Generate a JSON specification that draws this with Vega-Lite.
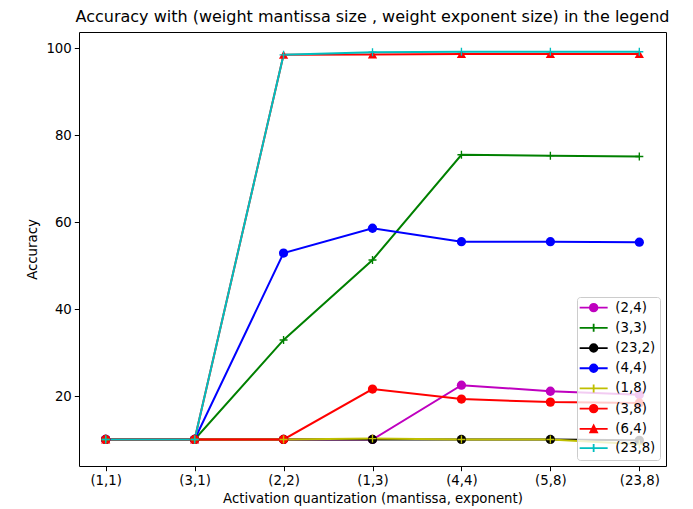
{
  "$schema": "https://vega.github.io/schema/vega-lite/v6.json",
  "width": 587,
  "height": 434,
  "autosize": {"type": "none"},
  "padding": {"left": 79, "top": 32, "right": 27, "bottom": 43},
  "background": "white",
  "title": {
    "text": "Accuracy with (weight mantissa size , weight exponent size) in the legend",
    "font": "DejaVu Sans", "fontSize": 16, "fontWeight": "normal", "color": "#000",
    "anchor": "middle", "offset": 7
  },
  "config": {
    "view": {"stroke": "#000", "strokeWidth": 1},
    "axis": {
      "grid": false, "domain": false, "tickColor": "#000", "tickSize": 4.7, "tickWidth": 1,
      "labelFont": "DejaVu Sans", "labelFontSize": 13.3, "labelColor": "#000", "labelPadding": 3,
      "titleFont": "DejaVu Sans", "titleFontSize": 13.3, "titleFontWeight": "normal", "titleColor": "#000"
    },
    "legend": {
      "orient": "bottom-right", "offset": 6,
      "fillColor": "rgba(255,255,255,0.8)", "strokeColor": "#cccccc", "cornerRadius": 3, "padding": 4,
      "labelFont": "DejaVu Sans", "labelFontSize": 13.3, "labelColor": "#000",
      "symbolSize": 64, "symbolStrokeWidth": 1.8, "symbolOffset": 6, "labelOffset": 15, "rowPadding": 4.2, "symbolOpacity": 1
    }
  },
  "data": {
    "values": [
      {"s": "(2,4)", "x": "(1,1)", "y": 10}, {"s": "(2,4)", "x": "(3,1)", "y": 10}, {"s": "(2,4)", "x": "(2,2)", "y": 10}, {"s": "(2,4)", "x": "(1,3)", "y": 10}, {"s": "(2,4)", "x": "(4,4)", "y": 22.5}, {"s": "(2,4)", "x": "(5,8)", "y": 21.1}, {"s": "(2,4)", "x": "(23,8)", "y": 20.3},
      {"s": "(3,3)", "x": "(1,1)", "y": 10}, {"s": "(3,3)", "x": "(3,1)", "y": 10}, {"s": "(3,3)", "x": "(2,2)", "y": 32.9}, {"s": "(3,3)", "x": "(1,3)", "y": 51.3}, {"s": "(3,3)", "x": "(4,4)", "y": 75.5}, {"s": "(3,3)", "x": "(5,8)", "y": 75.3}, {"s": "(3,3)", "x": "(23,8)", "y": 75.1},
      {"s": "(23,2)", "x": "(1,1)", "y": 10}, {"s": "(23,2)", "x": "(3,1)", "y": 10}, {"s": "(23,2)", "x": "(2,2)", "y": 10}, {"s": "(23,2)", "x": "(1,3)", "y": 10}, {"s": "(23,2)", "x": "(4,4)", "y": 10}, {"s": "(23,2)", "x": "(5,8)", "y": 10}, {"s": "(23,2)", "x": "(23,8)", "y": 9.8},
      {"s": "(4,4)", "x": "(1,1)", "y": 10}, {"s": "(4,4)", "x": "(3,1)", "y": 10}, {"s": "(4,4)", "x": "(2,2)", "y": 52.9}, {"s": "(4,4)", "x": "(1,3)", "y": 58.6}, {"s": "(4,4)", "x": "(4,4)", "y": 55.5}, {"s": "(4,4)", "x": "(5,8)", "y": 55.5}, {"s": "(4,4)", "x": "(23,8)", "y": 55.4},
      {"s": "(1,8)", "x": "(1,1)", "y": 10}, {"s": "(1,8)", "x": "(3,1)", "y": 10}, {"s": "(1,8)", "x": "(2,2)", "y": 10}, {"s": "(1,8)", "x": "(1,3)", "y": 10.2}, {"s": "(1,8)", "x": "(4,4)", "y": 10}, {"s": "(1,8)", "x": "(5,8)", "y": 10}, {"s": "(1,8)", "x": "(23,8)", "y": 8.9},
      {"s": "(3,8)", "x": "(1,1)", "y": 10}, {"s": "(3,8)", "x": "(3,1)", "y": 10}, {"s": "(3,8)", "x": "(2,2)", "y": 10}, {"s": "(3,8)", "x": "(1,3)", "y": 21.6}, {"s": "(3,8)", "x": "(4,4)", "y": 19.3}, {"s": "(3,8)", "x": "(5,8)", "y": 18.6}, {"s": "(3,8)", "x": "(23,8)", "y": 18.4},
      {"s": "(6,4)", "x": "(1,1)", "y": 10}, {"s": "(6,4)", "x": "(3,1)", "y": 10}, {"s": "(6,4)", "x": "(2,2)", "y": 98.5}, {"s": "(6,4)", "x": "(1,3)", "y": 98.6}, {"s": "(6,4)", "x": "(4,4)", "y": 98.7}, {"s": "(6,4)", "x": "(5,8)", "y": 98.7}, {"s": "(6,4)", "x": "(23,8)", "y": 98.7},
      {"s": "(23,8)", "x": "(1,1)", "y": 10}, {"s": "(23,8)", "x": "(3,1)", "y": 10}, {"s": "(23,8)", "x": "(2,2)", "y": 98.5}, {"s": "(23,8)", "x": "(1,3)", "y": 99.1}, {"s": "(23,8)", "x": "(4,4)", "y": 99.2}, {"s": "(23,8)", "x": "(5,8)", "y": 99.2}, {"s": "(23,8)", "x": "(23,8)", "y": 99.2}
    ]
  },
  "encoding": {
    "x": {
      "field": "x", "type": "ordinal",
      "sort": ["(1,1)", "(3,1)", "(2,2)", "(1,3)", "(4,4)", "(5,8)", "(23,8)"],
      "scale": {"type": "point", "padding": 0.3},
      "axis": {"title": "Activation quantization (mantissa, exponent)", "labelAngle": 0, "titlePadding": 4}
    },
    "y": {
      "field": "y", "type": "quantitative",
      "scale": {"domain": [3.9, 103.75], "nice": false, "zero": false},
      "axis": {"title": "Accuracy", "values": [20, 40, 60, 80, 100], "titlePadding": 6}
    },
    "color": {
      "field": "s", "type": "nominal",
      "scale": {
        "domain": ["(2,4)", "(3,3)", "(23,2)", "(4,4)", "(1,8)", "(3,8)", "(6,4)", "(23,8)"],
        "range": ["#bf00bf", "#008000", "#000000", "#0000ff", "#bfbf00", "#ff0000", "#ff0000", "#00bfbf"]
      },
      "legend": {
        "title": null,
        "encode": {"symbols": {"update": {"fill": {"scale": "color", "field": "value"}, "stroke": {"scale": "color", "field": "value"}, "opacity": {"value": 1}}}}
      }
    }
  },
  "layer": [
    {"mark": {"type": "line", "strokeWidth": 2}, "encoding": {"order": {"value": null}}},
    {
      "transform": [{"filter": {"field": "s", "oneOf": ["(2,4)", "(23,2)", "(4,4)", "(3,8)"]}}],
      "mark": {"type": "point", "shape": "circle", "filled": true, "size": 86, "opacity": 1}
    },
    {
      "transform": [{"filter": {"field": "s", "equal": "(6,4)"}}],
      "mark": {"type": "point", "shape": "triangle-up", "filled": true, "size": 86, "opacity": 1}
    },
    {
      "transform": [{"filter": {"field": "s", "oneOf": ["(3,3)", "(1,8)", "(23,8)"]}}],
      "mark": {"type": "point", "shape": "M-1,0H1M0,-1V1", "filled": false, "size": 64, "strokeWidth": 1.35, "opacity": 1}
    },
    {
      "transform": [{"filter": "datum.y < 0"}],
      "mark": {"type": "point", "filled": true, "opacity": 1},
      "encoding": {
        "shape": {
          "field": "s", "type": "nominal",
          "scale": {
            "domain": ["(2,4)", "(3,3)", "(23,2)", "(4,4)", "(1,8)", "(3,8)", "(6,4)", "(23,8)"],
            "range": [
              "M-3.5,0H3.5M0.95,0A0.95,0.95,0,1,1,-0.95,0A0.95,0.95,0,1,1,0.95,0Z",
              "M-3.5,0H3.5M0,-1V1",
              "M-3.5,0H3.5M0.95,0A0.95,0.95,0,1,1,-0.95,0A0.95,0.95,0,1,1,0.95,0Z",
              "M-3.5,0H3.5M0.95,0A0.95,0.95,0,1,1,-0.95,0A0.95,0.95,0,1,1,0.95,0Z",
              "M-3.5,0H3.5M0,-1V1",
              "M-3.5,0H3.5M0.95,0A0.95,0.95,0,1,1,-0.95,0A0.95,0.95,0,1,1,0.95,0Z",
              "M-3.5,0H3.5M0,-0.85L0.85,0.85L-0.85,0.85Z",
              "M-3.5,0H3.5M0,-1V1"
            ]
          },
          "legend": {
            "title": null,
            "encode": {"symbols": {"update": {"fill": {"scale": "color", "field": "value"}, "stroke": {"scale": "color", "field": "value"}, "opacity": {"value": 1}}}}
          }
        }
      }
    }
  ]
}
